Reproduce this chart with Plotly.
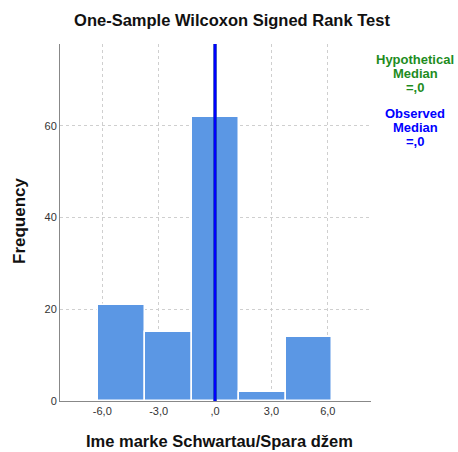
import plotly.graph_objects as go

bin_centers = [-5.0, -2.5, 0.0, 2.5, 5.0]
frequencies = [21, 15, 62, 2, 14]
bin_width = 2.5

x_tick_vals = [-6, -3, 0, 3, 6]
x_tick_text = ["-6,0", "-3,0", ",0", "3,0", "6,0"]
y_tick_vals = [0, 20, 40, 60]
y_tick_text = ["0", "20", "40", "60"]

hypothetical_median = 0.0
observed_median = 0.0

title_text = "One-Sample Wilcoxon Signed Rank Test"
x_title = "Ime marke Schwartau/Spara džem"
y_title = "Frequency"
hyp_lines = ["Hypothetical", "Median", "=,0"]
obs_lines = ["Observed", "Median", "=,0"]

W, H = 458, 452
plot_l, plot_r, plot_t, plot_b = 60, 371, 44, 401


def px_to_paper(px, py):
    return (px - plot_l) / (plot_r - plot_l), (plot_b - py) / (plot_b - plot_t)


fig = go.Figure()
fig.add_trace(go.Bar(
    x=bin_centers, y=frequencies, width=[bin_width] * len(bin_centers),
    marker=dict(color="#5b97e4", line=dict(color="white", width=1.5)),
    showlegend=False, hoverinfo="x+y",
))

fig.add_shape(type="line", x0=hypothetical_median, x1=hypothetical_median,
              y0=0, y1=1, xref="x", yref="paper",
              line=dict(color="#1e8c1e", width=3))
fig.add_shape(type="line", x0=observed_median, x1=observed_median,
              y0=0, y1=1, xref="x", yref="paper",
              line=dict(color="#0000ff", width=3))

font = "Arial, Liberation Sans, sans-serif"

annotations = []
x, y = px_to_paper(219, 441)
annotations.append(dict(text="<b>" + x_title + "</b>", x=x, y=y,
                        font=dict(size=16.5, color="#111", family=font)))
x, y = px_to_paper(19, 221)
annotations.append(dict(text="<b>" + y_title + "</b>", x=x, y=y, textangle=-90,
                        font=dict(size=17, color="#111", family=font)))
for i, t in enumerate(hyp_lines):
    x, y = px_to_paper(415, 60 + 13.5 * i)
    annotations.append(dict(text="<b>" + t + "</b>", x=x, y=y,
                            font=dict(size=13, color="#1e8c1e", family=font)))
for i, t in enumerate(obs_lines):
    x, y = px_to_paper(415, 114 + 13.5 * i)
    annotations.append(dict(text="<b>" + t + "</b>", x=x, y=y,
                            font=dict(size=13, color="#0000ff", family=font)))
for a in annotations:
    a.update(xref="paper", yref="paper", xanchor="center", yanchor="middle",
             showarrow=False)

fig.update_layout(
    width=W, height=H, autosize=False,
    margin=dict(l=plot_l, r=W - plot_r, t=plot_t, b=H - plot_b, autoexpand=False),
    paper_bgcolor="white", plot_bgcolor="white",
    font=dict(family=font, color="#222"),
    bargap=0,
    title=dict(text="<b>" + title_text + "</b>", x=232 / W, xanchor="center",
               y=1 - 20 / H, yanchor="middle", yref="container",
               font=dict(size=16.5, color="#111", family=font)),
    xaxis=dict(range=[-8.25, 8.3], tickvals=x_tick_vals, ticktext=x_tick_text,
               showgrid=True, gridcolor="#cfcfcf", griddash="3px,3px", gridwidth=1,
               zeroline=False, showline=True, linecolor="#888", linewidth=1,
               ticks="", tickfont=dict(size=11, color="#333"), automargin=False),
    yaxis=dict(range=[0, 77.8], tickvals=y_tick_vals, ticktext=y_tick_text,
               showgrid=True, gridcolor="#cfcfcf", griddash="3px,3px", gridwidth=1,
               zeroline=False, showline=True, linecolor="#888", linewidth=1,
               ticks="", tickfont=dict(size=11, color="#333"), automargin=False),
    annotations=annotations,
)

fig.write_html("out.html", config={"displayModeBar": False},
               post_script="document.body.style.margin='0';document.body.style.padding='0';")
